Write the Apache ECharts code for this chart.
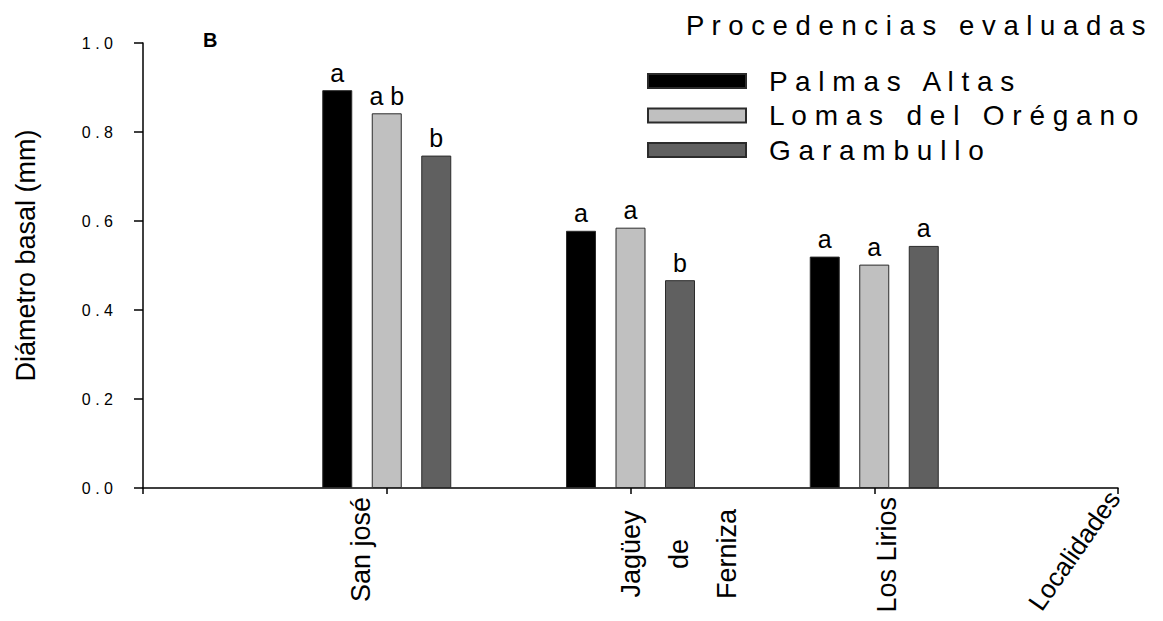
<!DOCTYPE html>
<html>
<head>
<meta charset="utf-8">
<script src="https://cdn.jsdelivr.net/npm/echarts@6/dist/echarts.min.js"></script>
<style>
html,body{margin:0;padding:0;background:#fff;}
#chart{width:1163px;height:621px;}
</style>
</head>
<body>
<div id="chart"></div>
<script>
const categories = ['', 'San josé', 'Jagüey de Ferniza', 'Los Lirios', ''];
const seriesNames = ['Palmas Altas', 'Lomas del Orégano', 'Garambullo'];
const palmasAltas = [null, 0.894, 0.578, 0.520, null];
const lomasOregano = [null, 0.842, 0.585, 0.502, null];
const garambullo = [null, 0.747, 0.467, 0.544, null];
const lettersPalmas = ['', 'a', 'a', 'a', ''];
const lettersLomas = ['', 'a b', 'a', 'a', ''];
const lettersGaram = ['', 'b', 'b', 'a', ''];
const yAxisTitle = 'Diámetro basal (mm)';
const xAxisTitle = 'Localidades';
const legendTitle = 'Procedencias evaluadas';
const panelLabel = 'B';

const FONT = 'Liberation Sans, Arial, sans-serif';
const spaced = s => s.split('').join(' ');

const colors = ['#000000', '#c0c0c0', '#606060'];
const valuesList = [palmasAltas, lomasOregano, garambullo];
const lettersList = [lettersPalmas, lettersLomas, lettersGaram];

const chart = echarts.init(document.getElementById('chart'), null, {renderer: 'svg'});

const series = seriesNames.map((name, k) => ({
  name: name,
  type: 'bar',
  data: valuesList[k],
  barWidth: 30,
  barGap: '65%',
  itemStyle: {color: colors[k], borderColor: '#2b2b2b', borderWidth: 1},
  label: {
    show: true,
    position: 'top',
    distance: 5,
    fontFamily: FONT,
    fontSize: 25,
    color: '#000',
    formatter: p => lettersList[k][p.dataIndex]
  },
  emphasis: {disabled: true},
  animation: false
}));

const richBase = {fontFamily: FONT, fontSize: 27, color: '#000'};

const option = {
  animation: false,
  grid: {left: 143, right: 45, top: 43, bottom: 133, outerBoundsMode: 'none'},
  title: [
    {text: panelLabel, left: 203, top: 30, padding: 0,
     textStyle: {fontFamily: FONT, fontSize: 20, fontWeight: 'bold', color: '#000'}},
    {text: spaced(legendTitle), left: 686, top: 11, padding: 0,
     textStyle: {fontFamily: FONT, fontSize: 27.5, fontWeight: 'normal', color: '#000'}}
  ],
  legend: {
    orient: 'vertical',
    left: 647,
    top: 67,
    padding: 0,
    itemWidth: 98,
    itemHeight: 14,
    itemGap: 6.5,
    icon: 'rect',
    selectedMode: false,
    data: seriesNames,
    formatter: name => spaced(name),
    textStyle: {fontFamily: FONT, fontSize: 28, color: '#000', padding: [0, 0, 0, 18]}
  },
  xAxis: {
    type: 'category',
    data: categories,
    boundaryGap: false,
    name: xAxisTitle,
    nameLocation: 'end',
    nameGap: 0,
    nameRotate: 55,
    nameTextStyle: {fontFamily: FONT, fontSize: 26, color: '#000', align: 'right', verticalAlign: 'middle', padding: [0, 7, 0, 0]},
    axisLine: {show: true, lineStyle: {color: '#000', width: 1.5}},
    axisTick: {show: true, interval: 0, length: 6, lineStyle: {color: '#000', width: 1.5}},
    axisLabel: {
      show: true,
      interval: 0,
      rotate: 90,
      margin: 9,
      fontFamily: FONT,
      fontSize: 27,
      color: '#000',
      formatter: (v, i) => {
        if (i === 1) return '{sj|' + v + '}';
        if (i === 2) {
          const w = v.split(' ');
          return '{jg| }\n{jg| }\n{jg|' + w[0] + '}\n{jg|' + w[1] + '}\n{jg|' + w[2] + '}';
        }
        if (i === 3) return '{ll|' + v + '}';
        return '';
      },
      rich: {
        sj: Object.assign({}, richBase, {padding: [0, 0, 52, 0]}),
        jg: Object.assign({}, richBase, {lineHeight: 48, align: 'center', padding: [0, 12, 0, 0]}),
        ll: Object.assign({}, richBase, {padding: [26, 0, 0, 0]})
      }
    },
    splitLine: {show: false}
  },
  yAxis: {
    type: 'value',
    min: 0,
    max: 1,
    interval: 0.2,
    name: yAxisTitle,
    nameLocation: 'middle',
    nameRotate: 90,
    nameGap: 104,
    nameTextStyle: {fontFamily: FONT, fontSize: 27, color: '#000', padding: [0, 0, 0, 20]},
    axisLine: {show: true, lineStyle: {color: '#000', width: 1.5}},
    axisTick: {show: true, length: 9, lineStyle: {color: '#000', width: 1.5}},
    axisLabel: {
      margin: 30,
      fontFamily: FONT,
      fontSize: 16,
      color: '#000',
      formatter: v => spaced(v.toFixed(1))
    },
    splitLine: {show: false}
  },
  series: series
};

chart.setOption(option);
</script>
</body>
</html>
